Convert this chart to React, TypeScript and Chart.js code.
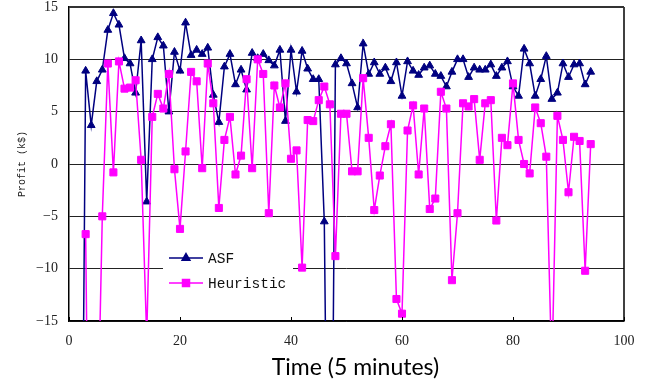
import React, { useEffect, useRef } from "react";
import { Chart, registerables } from "chart.js";

Chart.register(...registerables);

// Time index (5-minute intervals)
const times = [
  2, 3, 4, 5, 6, 7, 8, 9, 10, 11,
  12, 13, 14, 15, 16, 17, 18, 19, 20, 21,
  22, 23, 24, 25, 26, 27, 28, 29, 30, 31,
  32, 33, 34, 35, 36, 37, 38, 39, 40, 41,
  42, 43, 44, 45, 46, 47, 48, 49, 50, 51,
  52, 53, 54, 55, 56, 57, 58, 59, 60, 61,
  62, 63, 64, 65, 66, 67, 68, 69, 70, 71,
  72, 73, 74, 75, 76, 77, 78, 79, 80, 81,
  82, 83, 84, 85, 86, 87, 88, 89, 90, 91,
  92, 93, 94,
];

// Profit (k$) – ASF
const asfProfit = [
  -57, 8.9, 3.7, 7.9, 9.0, 12.8, 14.4, 13.3, 10.1, 9.6,
  6.8, 11.8, -3.6, 10.0, 12.1, 11.3, 5.0, 10.7, 8.9, 13.5,
  10.4, 10.9, 10.5, 11.1, 6.6, 4.0, 9.3, 10.5, 7.6, 9.0,
  7.1, 10.6, 10.1, 10.5, 9.9, 9.4, 10.9, 4.1, 10.9, 6.9,
  10.8, 9.1, 8.1, 8.1, -5.5, -56, 9.5, 10.1, 9.6, 7.7,
  5.4, 11.5, 8.6, 9.7, 8.6, 9.2, 7.9, 9.7, 6.5, 9.8,
  8.9, 8.5, 9.2, 9.4, 8.6, 8.4, 7.4, 8.8, 10.0, 10.0,
  8.3, 9.2, 9.0, 9.0, 9.5, 8.4, 9.2, 9.8, 7.4, 6.5,
  11.0, 9.6, 6.5, 8.1, 10.3, 6.2, 6.8, 9.6, 8.3, 9.5,
  9.6, 7.6, 8.8,
];

// Profit (k$) – Heuristic
const heuristicProfit = [
  null, -6.7, -55, -30, -5.0, 9.6, -0.8, 9.8, 7.2, 7.3,
  8.0, 0.4, -16.5, 4.5, 6.7, 5.3, 8.6, -0.5, -6.2, 1.2,
  8.8, 7.9, -0.4, 9.6, 5.8, -4.2, 2.3, 4.5, -1.0, 0.8,
  8.1, -0.4, 10.0, 8.6, -4.7, 7.5, 5.4, 7.7, 0.5, 1.3,
  -9.9, 4.2, 4.1, 6.1, 7.4, 5.7, -8.8, 4.8, 4.8, -0.7,
  -0.7, 8.2, 2.5, -4.4, -1.1, 1.7, 3.8, -12.9, -14.3, 3.2,
  5.6, -1.0, 5.3, -4.3, -3.3, 6.9, 5.3, -11.1, -4.7, 5.8,
  5.5, 6.2, 0.4, 5.8, 6.1, -5.4, 2.5, 1.8, 7.7, 2.3,
  0.0, -0.9, 5.4, 3.9, 0.7, -20, 4.6, 2.3, -2.7, 2.6,
  2.2, -10.2, 1.9,
];

const xTickValues = [0, 20, 40, 60, 80, 100];
const yTickValues = [-15, -10, -5, 0, 5, 10, 15];

const seriesNames = ["ASF", "Heuristic"];
const seriesColors = ["#000080", "#FF00FF"];
const seriesMarkers = ["triangle", "rect"];
const xAxisTitle = "Time (5 minutes)";
const yAxisTitle = "Profit (k$)";

const frameAndLegendPlugin = {
  id: "frameAndLegend",
  afterDatasetsDraw(chart: any) {
    const { ctx, chartArea } = chart;
    const xScale = chart.scales.x;
    ctx.save();
    // right border
    ctx.strokeStyle = "#000";
    ctx.lineWidth = 1.5;
    ctx.beginPath();
    ctx.moveTo(chartArea.right, chartArea.top);
    ctx.lineTo(chartArea.right, chartArea.bottom);
    ctx.stroke();
    // top border (thicker)
    ctx.strokeStyle = "#333";
    ctx.lineWidth = 2;
    ctx.beginPath();
    ctx.moveTo(chartArea.left, chartArea.top);
    ctx.lineTo(chartArea.right, chartArea.top);
    ctx.stroke();
    // inward tick marks on x axis
    ctx.strokeStyle = "#000";
    ctx.lineWidth = 1;
    xTickValues.forEach((v) => {
      const px = Math.round(xScale.getPixelForValue(v)) + 0.5;
      ctx.beginPath();
      ctx.moveTo(px, chartArea.bottom);
      ctx.lineTo(px, chartArea.bottom - 4);
      ctx.stroke();
    });

    // legend inside plot area
    const x0 = chartArea.left + 94;
    const y0 = chartArea.top + 239;
    ctx.fillStyle = "#fff";
    ctx.fillRect(x0, y0, 130, 50);
    chart.data.datasets.forEach((ds: any, i: number) => {
      const y = y0 + 12 + i * 25;
      ctx.strokeStyle = ds.borderColor;
      ctx.fillStyle = ds.backgroundColor;
      ctx.lineWidth = 1.5;
      ctx.beginPath();
      ctx.moveTo(x0 + 6, y);
      ctx.lineTo(x0 + 40, y);
      ctx.stroke();
      const mx = x0 + 23;
      ctx.beginPath();
      if (ds.pointStyle === "triangle") {
        const r = 4.5;
        ctx.moveTo(mx, y - r);
        ctx.lineTo(mx + r * 0.866, y + r * 0.5);
        ctx.lineTo(mx - r * 0.866, y + r * 0.5);
        ctx.closePath();
      } else {
        ctx.rect(mx - 3.5, y - 3.5, 7, 7);
      }
      ctx.fill();
      ctx.stroke();
      ctx.fillStyle = "#111";
      ctx.font = "14.5px 'Liberation Mono'";
      ctx.textAlign = "left";
      ctx.textBaseline = "middle";
      ctx.fillText(ds.label, x0 + 45, y + 1);
    });

    // x-axis title (slightly right of the plot centre, as in the original)
    ctx.fillStyle = "#000";
    ctx.font = "23px Lato";
    ctx.textAlign = "center";
    ctx.textBaseline = "middle";
    ctx.fillText(xAxisTitle, (chartArea.left + chartArea.right) / 2 + 9, chartArea.bottom + 47);
    ctx.restore();
  },
};

export default function App() {
  const canvasRef = useRef<HTMLCanvasElement | null>(null);

  useEffect(() => {
    if (!canvasRef.current) return;
    const makeData = (vals: (number | null)[]) =>
      times.map((t, i) => ({ x: t, y: vals[i] }));
    const chart = new Chart(canvasRef.current, {
      type: "line",
      data: {
        datasets: [asfProfit, heuristicProfit].map((vals, i) => ({
          label: seriesNames[i],
          data: makeData(vals as any),
          borderColor: seriesColors[i],
          backgroundColor: seriesColors[i],
          borderWidth: 1.5,
          pointStyle: seriesMarkers[i] as any,
          pointRadius: i === 0 ? 4.5 : 5,
          pointBorderWidth: 1,
          pointBackgroundColor: seriesColors[i],
          pointBorderColor: seriesColors[i],
          tension: 0,
          fill: false,
          order: i === 0 ? 1 : 0,
        })),
      },
      options: {
        animation: false,
        responsive: false,
        maintainAspectRatio: false,
        layout: { padding: { top: 7, right: 33, left: 0, bottom: 0 }, autoPadding: false },
        plugins: {
          legend: { display: false },
          tooltip: { enabled: false },
        },
        scales: {
          x: {
            type: "linear",
            min: 0,
            max: 100,
            afterFit: (scale: any) => {
              scale.height = 64;
            },
            afterBuildTicks: (scale: any) => {
              scale.ticks = xTickValues.map((v) => ({ value: v }));
            },
            grid: { display: false, drawTicks: false },
            border: { display: true, color: "#000", width: 1.5 },
            ticks: {
              padding: 12,
              color: "#222",
              font: { family: "'Liberation Serif'", size: 14 },
              maxRotation: 0,
              callback: (v: any) => String(v),
            },
            title: { display: false },
          },
          y: {
            type: "linear",
            min: -15,
            max: 15,
            afterFit: (scale: any) => {
              scale.width = 69;
              scale.paddingTop = 0;
              scale.paddingBottom = 0;
            },
            afterBuildTicks: (scale: any) => {
              scale.ticks = yTickValues.map((v) => ({ value: v }));
            },
            grid: { display: true, drawTicks: false, color: "#222", lineWidth: 1 },
            border: { display: true, color: "#000", width: 1.5 },
            ticks: {
              padding: 11,
              color: "#222",
              font: { family: "'Liberation Serif'", size: 14 },
              callback: (v: any) => (v < 0 ? "\u2212" + Math.abs(v) : String(v)),
            },
            title: {
              display: true,
              text: yAxisTitle,
              color: "#222",
              font: { family: "'Liberation Mono'", size: 10 },
              padding: { top: 16, bottom: 0 },
            },
          },
        },
      },
      plugins: [frameAndLegendPlugin],
    });
    return () => chart.destroy();
  }, []);

  return (
    <div style={{ position: "fixed", left: 0, top: 0, width: 657, height: 385, background: "#fff" }}>
      <canvas ref={canvasRef} width={657} height={385} style={{ width: 657, height: 385 }} />
    </div>
  );
}
